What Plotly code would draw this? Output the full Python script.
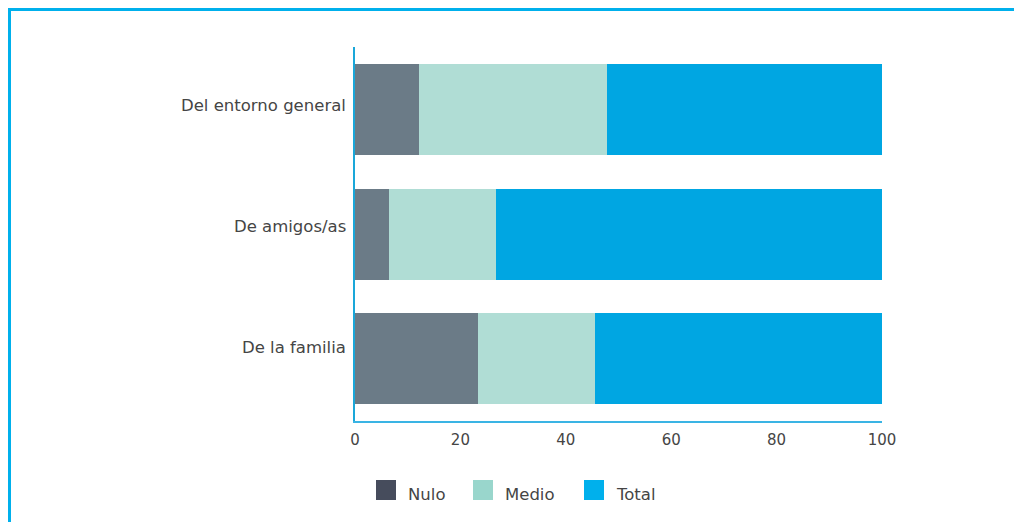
import plotly.graph_objects as go

categories = ["Del entorno general", "De amigos/as", "De la familia"]
nulo = [12.1, 6.5, 23.4]
medio = [35.7, 20.3, 22.2]
total = [52.2, 73.2, 54.4]
series_names = ["Nulo", "Medio", "Total"]
bar_colors = ["#6b7b87", "#b0ddd5", "#00a6e2"]
legend_colors = ["#464c5c", "#99d6cc", "#00b0ec"]
x_ticks = [0, 20, 40, 60, 80, 100]
label_yshift = [4, 8, 11]  # category labels sit slightly above the bar centres

fig = go.Figure()
for name, vals, col in zip(series_names, [nulo, medio, total], bar_colors):
    fig.add_trace(go.Bar(
        y=categories, x=vals, name=name, orientation="h",
        marker=dict(color=col, line=dict(width=0)),
        showlegend=False, hoverinfo="x+name",
    ))

font_family = "'DejaVu Sans', sans-serif"
text_color = "#454545"

# figure is drawn offset by the page's 8px body margin
W, H = 1014, 514
L, R, T, B = 347, 140, 39, 101
PW, PH = W - L - R, H - T - B


def px(x):
    return (x - L) / PW


def py(y):
    return (H - B - y) / PH


fig.update_layout(
    width=W, height=H,
    barmode="stack", bargap=0.27,
    paper_bgcolor="white", plot_bgcolor="white",
    margin=dict(l=L, r=R, t=T, b=B),
    font=dict(family=font_family, size=15, color=text_color),
    xaxis=dict(
        range=[0, 100], tickvals=x_ticks, showgrid=False, zeroline=False,
        showline=True, linecolor="#3ab4e4", linewidth=1.5,
        ticks="", ticklabelstandoff=4, tickfont=dict(size=15, color=text_color),
    ),
    yaxis=dict(
        autorange="reversed", showgrid=False, zeroline=False,
        showline=True, linecolor="#1aa7d9", linewidth=1.5,
        ticks="", showticklabels=False,
    ),
    showlegend=False,
)

# category labels
for cat, ys in zip(categories, label_yshift):
    fig.add_annotation(xref="paper", yref="y", x=0, y=cat, text=cat,
                       showarrow=False, xanchor="right", yanchor="middle",
                       xshift=-7, yshift=ys,
                       font=dict(size=16.5, color=text_color))

# border (top and left) of the panel
fig.add_shape(type="line", xref="paper", yref="paper",
              x0=px(0), x1=px(W), y0=py(1.5), y1=py(1.5),
              line=dict(color="#00b0ec", width=3), layer="above")
fig.add_shape(type="line", xref="paper", yref="paper",
              x0=px(1.5), x1=px(1.5), y0=py(0), y1=py(H),
              line=dict(color="#00b0ec", width=3), layer="above")

# manual legend
leg_x = [368, 465, 576]
for i, (name, col) in enumerate(zip(series_names, legend_colors)):
    fig.add_shape(type="rect", xref="paper", yref="paper",
                  x0=px(leg_x[i]), x1=px(leg_x[i] + 20),
                  y0=py(492), y1=py(472),
                  fillcolor=col, line=dict(width=0))
    fig.add_annotation(xref="paper", yref="paper",
                       x=px(leg_x[i] + 30), y=py(486),
                       text=name, showarrow=False, xanchor="left", yanchor="middle",
                       font=dict(size=16.5, color=text_color))

fig.write_html("out.html")
